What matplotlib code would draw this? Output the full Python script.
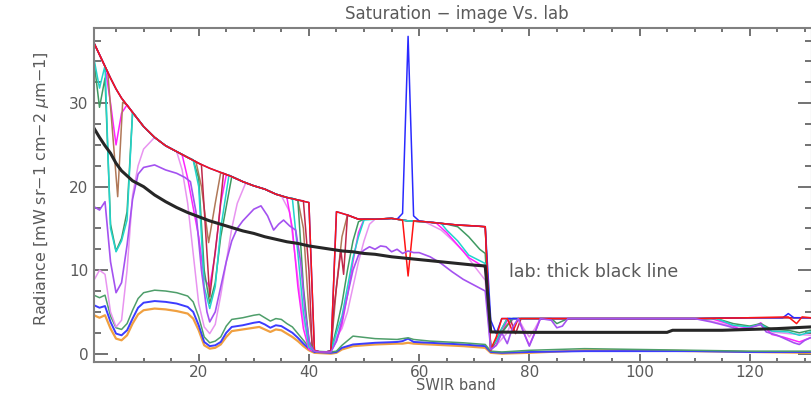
import matplotlib
matplotlib.use('Agg')
import matplotlib.pyplot as plt
from matplotlib.ticker import MultipleLocator

# common saturated envelope (band, radiance)
env_x = [1, 2, 3, 4, 5, 6, 8, 10, 12, 14, 16, 18, 20, 22, 24, 26, 28, 30, 32, 34, 36, 38, 40,
         41, 42, 43, 44, 45, 47, 49, 52, 55, 58, 61, 64, 67, 70, 72,
         73, 76, 80, 90, 100, 110, 120, 131]
env_y = [37.2, 35.8, 34.4, 33.0, 31.7, 30.6, 28.9, 27.2, 25.9, 24.9, 24.2, 23.5, 22.8, 22.2, 21.7,
         21.2, 20.6, 20.1, 19.7, 19.1, 18.7, 18.4, 18.1,
         0.4, 0.2, 0.2, 0.3, 17.0, 16.6, 16.1, 16.1, 16.2, 15.9, 15.8, 15.6, 15.4, 15.3, 15.2,
         4.2, 4.2, 4.2, 4.2, 4.2, 4.2, 4.3, 4.3]

# where each image pixel leaves the envelope
red_dips = [[(57, 16.0), (58, 9.3), (59, 15.9)],
            [(73, 0.5), (74, 2.0), (75, 4.2)],
            [(76, 4.2), (77, 2.6), (78, 4.2)],
            [(127, 4.4), (128.5, 3.6), (129.5, 4.4)]]
blue_dips = [[(56, 16.1), (57, 16.8), (58, 38.0), (59, 16.5), (60, 15.9)],
             [(73, 4.0), (74, 2.4), (75, 4.2)],
             [(126, 4.3), (127, 4.8), (128, 4.3)]]
cyan_dips = [[(1, 35.3), (2, 31.8), (3, 34.5), (4, 15.0), (5, 12.2), (6, 13.5), (7, 16.0), (8, 28.9)],
             [(19, 23.2), (20, 20.0), (21, 8.0), (22, 5.4), (23, 8.0), (24, 15.0), (25.5, 21.4)],
             [(37, 18.6), (38, 12.0), (39, 5.0), (40, 0.8), (41, 0.3)],
             [(44, 0.3), (45, 2.5), (46, 4.5), (47, 8.0), (48, 11.5), (49, 14.0), (50, 16.0)],
             [(64, 15.6), (65, 14.8), (67, 13.5), (69, 11.8), (72, 10.8), (73, 0.8), (74, 1.5),
              (75, 3.0), (76, 4.2)],
             [(114, 4.2), (117, 3.4), (120, 3.2), (122, 3.5), (124, 2.7), (127, 2.6), (129, 2.2),
              (131, 2.6)]]
green_dips = [[(1, 35.0), (2, 29.5), (3, 33.0), (4, 15.5), (5, 12.3), (6, 13.8), (7, 17.0), (8, 28.9)],
              [(19, 23.2), (20, 21.0), (21, 10.0), (22, 6.0), (23, 8.5), (24, 14.0), (26, 21.2)],
              [(37, 18.6), (38, 18.4), (39, 8.0), (40, 1.5), (41, 0.3)],
              [(44, 0.3), (45, 3.0), (46, 6.0), (47, 10.0), (48, 13.5), (49, 15.8), (50, 16.1)],
              [(65, 15.5), (67, 15.2), (69, 14.0), (71, 12.5), (72, 12.0), (73, 0.6), (75, 2.5),
               (77, 4.2)],
              [(84, 4.2), (85, 3.6), (86, 3.9), (87, 4.2)],
              [(114, 4.2), (117, 3.6), (120, 3.3), (122, 3.6), (124, 2.9), (127, 2.8), (129, 2.5),
               (131, 2.8)]]
magenta_dips = [[(3, 34.4), (4, 30.0), (5, 25.0), (6, 28.8), (7, 29.8), (8, 28.9)],
                [(17, 23.8), (18, 21.0), (20, 14.0), (21, 9.0), (22, 8.0), (23, 12.0), (24, 18.0),
                 (25, 21.4)],
                [(36, 18.7), (37, 15.0), (38, 8.0), (39, 3.0), (40, 0.5), (41, 0.3)],
                [(44, 0.3), (45, 1.5), (46, 3.5), (47, 7.0), (48, 11.0), (49, 14.5), (50, 16.1)],
                [(63, 15.7), (65, 14.5), (67, 13.0), (69, 11.5), (72, 10.3), (73, 0.5), (74, 1.0),
                 (75, 2.5), (76, 4.0)],
                [(78, 4.2), (79, 2.5), (80, 1.0), (81, 2.5), (82, 4.2)],
                [(113, 4.2), (116, 3.6), (118, 3.0), (121, 3.3), (122, 3.7), (124, 2.3), (126, 2.0),
                 (129, 1.4), (131, 1.9)]]
brown_dips = [[(3.5, 33.7), (5.3, 18.8), (6.2, 30.1), (7, 29.8), (8, 28.9)],
              [(19.5, 23.0), (20.5, 20.0), (21.8, 13.3), (23, 18.0), (24, 21.7)],
              [(38, 18.4), (39, 15.0), (40, 5.0), (40.7, 0.5), (41, 0.3)],
              [(44, 0.3), (45, 8.0), (46, 14.0), (47, 16.6)],
              [(73, 0.4), (74, 1.5), (76, 3.5), (77, 4.2)]]
darkred_dips = [[(20.5, 22.6), (22, 6.8), (23.5, 15.0), (24.5, 21.6)],
                [(39, 18.3), (40, 10.0), (40.6, 0.5), (41, 0.3)],
                [(44, 0.3), (44.5, 5.2), (45.8, 12.4), (46.3, 9.5), (47, 16.6)],
                [(73, 0.4), (75, 3.0), (76, 4.2)],
                [(76.5, 4.2), (77.5, 2.4), (78.5, 4.2)]]
pink_dips = [[(1, 8.8), (2, 10.0), (3, 9.5), (4, 5.0), (5, 3.2), (6, 4.0), (7, 10.0), (8, 19.0),
              (9, 22.5), (10, 24.5), (12, 25.9)],
             [(16, 24.2), (17, 22.0), (18, 18.0), (19, 12.0), (20, 6.0), (21, 3.2), (22, 2.4),
              (23, 3.5), (24, 7.0), (25, 11.0), (26, 15.0), (27, 18.0), (28.5, 20.4)],
             [(35, 18.9), (36.5, 17.0), (38, 9.0), (39, 4.0), (40, 1.0), (41, 0.3)],
             [(44, 0.3), (45, 2.0), (46, 3.0), (47, 5.0), (48, 8.0), (49, 11.0), (50, 13.5),
              (51, 15.5), (52, 16.1)],
             [(61, 15.8), (64, 14.8), (66, 13.6), (68, 12.3), (70, 10.5), (72, 8.8), (73, 0.5),
              (74, 1.0), (76, 2.5), (77, 4.2)],
             [(78, 4.2), (79, 3.0), (80, 2.0), (81, 3.0), (82, 4.2)],
             [(110, 4.2), (113, 3.9), (116, 3.4), (119, 3.2), (122, 3.4), (124, 2.6), (127, 2.4),
              (131, 2.2)]]

# violet pixel never reaches saturation
violet_x = [1, 2, 3, 4, 5, 6, 7, 8, 9, 10, 12, 14, 16, 17.5, 18.5, 19.5, 20.5, 21.5, 22, 23, 24, 25,
            26, 27, 28, 29, 30, 31.3, 32.5, 33.6, 34.5, 35.4, 36.5, 37.6, 38.5, 39.3, 40.2, 41, 42,
            44, 45, 46, 47, 48, 49, 50, 51, 52, 53, 54, 55, 56, 57, 58, 59, 60, 62, 64, 66, 68, 70,
            72, 73, 74, 75, 76, 77, 78, 79, 80, 81, 82, 84, 85, 86, 87, 110, 113, 116, 118, 120,
            122, 123, 125, 126, 128, 129, 130, 131]
violet_y = [17.6, 17.2, 18.2, 11.0, 7.3, 8.5, 13.0, 18.5, 21.5, 22.3, 22.6, 22.0, 21.6, 21.1, 20.6,
            17.0, 10.0, 5.0, 3.8, 5.0, 8.0, 11.0, 13.5, 15.0, 15.9, 16.6, 17.3, 17.7, 16.5, 14.8,
            15.5, 16.0, 15.3, 14.8, 11.0, 5.0, 1.0, 0.3, 0.2, 0.2, 1.5, 4.0, 7.0, 10.0, 11.8, 12.4,
            12.8, 12.5, 12.9, 12.8, 12.2, 12.5, 12.0, 12.3, 12.1, 12.1, 11.6, 10.8, 9.8, 8.9, 8.2,
            7.5, 0.5, 1.0, 2.5, 1.2, 3.2, 4.2, 2.5, 0.9, 2.5, 4.2, 4.0, 3.1, 3.3, 4.2, 4.2, 3.8,
            3.3, 2.9, 3.1, 3.5, 2.6, 2.2, 1.9, 1.3, 1.1, 1.6, 1.9]

# dark pixels
low_x = [1, 2, 3, 4, 5, 6, 7, 8, 9, 10, 12, 14, 16, 18, 19, 20, 21, 22, 23, 24, 25, 26, 28, 30, 31,
         32, 33, 34, 35, 36, 37, 38, 39, 40, 41, 44, 45, 46, 48, 52, 56, 57, 58, 59, 62, 68, 72,
         73, 75, 80, 90, 100, 110, 120, 131]
low_green = [7.0, 6.7, 7.0, 4.5, 3.1, 2.9, 3.6, 5.2, 6.6, 7.3, 7.6, 7.5, 7.3, 6.9, 6.2, 4.4, 2.0,
             1.3, 1.5, 2.0, 3.3, 4.1, 4.3, 4.6, 4.7, 4.3, 3.9, 4.2, 4.1, 3.6, 3.2, 2.4, 1.6, 0.8,
             0.3, 0.2, 0.3, 1.0, 2.1, 1.8, 1.7, 1.8, 1.9, 1.7, 1.5, 1.3, 1.1, 0.3, 0.2, 0.4, 0.6,
             0.5, 0.4, 0.3, 0.3]
low_blue = [5.8, 5.5, 5.7, 3.8, 2.4, 2.2, 2.8, 4.2, 5.5, 6.1, 6.3, 6.2, 6.0, 5.6, 5.0, 3.4, 1.4,
            0.9, 1.0, 1.4, 2.5, 3.2, 3.4, 3.7, 3.8, 3.5, 3.1, 3.4, 3.3, 2.9, 2.5, 1.9, 1.2, 0.6,
            0.2, 0.1, 0.2, 0.7, 1.1, 1.3, 1.4, 1.5, 1.8, 1.4, 1.3, 1.1, 0.9, 0.2, 0.1, 0.2, 0.3,
            0.3, 0.3, 0.2, 0.2]
low_orange = [4.6, 4.3, 4.6, 3.0, 1.8, 1.6, 2.2, 3.6, 4.7, 5.2, 5.4, 5.3, 5.1, 4.8, 4.2, 2.8, 1.0,
              0.6, 0.7, 1.1, 2.0, 2.7, 2.9, 3.1, 3.2, 2.9, 2.6, 2.9, 2.8, 2.4, 2.0, 1.5, 0.9, 0.4,
              0.1, 0.0, 0.1, 0.5, 0.9, 1.1, 1.2, 1.2, 1.3, 1.2, 1.1, 0.9, 0.7, 0.1, 0.0, 0.1, 0.4,
              0.4, 0.3, 0.2, 0.1]

# lab measurement
lab_x = [1, 2, 3, 4, 5, 6, 8, 10, 12, 14, 16, 18, 20, 22, 24, 26, 28, 30, 32, 34, 36, 38, 40, 42,
         44, 46, 48, 50, 52, 55, 58, 61, 64, 67, 70, 72, 73, 80, 90, 100, 105, 106, 115, 120, 125,
         131]
lab_y = [27.0, 25.9, 24.9, 24.0, 22.8, 21.9, 20.7, 20.0, 19.0, 18.2, 17.5, 16.9, 16.4, 15.9, 15.5,
         15.1, 14.7, 14.4, 14.0, 13.7, 13.4, 13.2, 12.9, 12.7, 12.5, 12.3, 12.2, 12.0, 11.9, 11.6,
         11.4, 11.2, 11.0, 10.8, 10.6, 10.5, 2.6, 2.55, 2.55, 2.55, 2.55, 2.8, 2.8, 2.9, 3.0, 3.2]


def splice(dips):
    pts = dict(zip(env_x, env_y))
    for dip in dips:
        lo, hi = dip[0][0], dip[-1][0]
        pts = {x: y for x, y in pts.items() if not lo <= x <= hi}
        pts.update(dict(dip))
    xs = sorted(pts)
    return xs, [pts[x] for x in xs]


grey = '#5a5a5a'
plt.rcParams['font.family'] = ['DejaVu Sans']

fig = plt.figure(figsize=(8.12, 3.93), dpi=100)
ax = fig.add_axes([94 / 812, 31 / 393, 1 - 94 / 812, 334 / 393])

ax.plot(low_x, low_orange, color='#f0a040', lw=1.6)
ax.plot(low_x, low_blue, color='#3c3cff', lw=1.4)
ax.plot(low_x, low_green, color='#4e9e6a', lw=1.1)

for dips, col in [(pink_dips, '#e894f0'), (magenta_dips, '#ff22ff'), (brown_dips, '#b07858'),
                  (darkred_dips, '#c0284a'), (green_dips, '#3f9a62'), (cyan_dips, '#22d4cc'),
                  (blue_dips, '#2a2aff'), (red_dips, '#ff1414')]:
    xs, ys = splice(dips)
    ax.plot(xs, ys, color=col, lw=1.1)

ax.plot(violet_x, violet_y, color='#a452f0', lw=1.2)
ax.plot(lab_x, lab_y, color='#262626', lw=2.2)

ax.set_xlim(1, 131.3)
ax.set_ylim(-1, 39)
ax.xaxis.set_major_locator(MultipleLocator(20))
ax.xaxis.set_minor_locator(MultipleLocator(5))
ax.yaxis.set_major_locator(MultipleLocator(10))
ax.yaxis.set_minor_locator(MultipleLocator(2.5))
ax.tick_params(axis='both', which='both', direction='in', top=True, right=True,
               colors=grey, labelsize=11, width=1.2)
ax.tick_params(axis='x', which='major', length=6, pad=2)
ax.tick_params(axis='x', which='minor', length=3)
ax.tick_params(axis='y', which='major', length=10, pad=4)
ax.tick_params(axis='y', which='minor', length=5)
for s in ax.spines.values():
    s.set_color('#808080')
    s.set_linewidth(1.5)

fig.text(457 / 812, 1 - 14 / 393, 'Saturation \u2212 image Vs. lab', ha='center', va='center',
         fontsize=12, color=grey)
fig.text(42 / 812, 1 - 189 / 393, 'Radiance [mW sr\u22121 cm\u22122 $\\mu$m\u22121]', rotation=90,
         ha='center', va='center', fontsize=11.5, color=grey)
fig.text(456 / 812, 1 - 386 / 393, 'SWIR band', ha='center', va='center', fontsize=10.5, color=grey)
ax.text(76.3, 9.8, 'lab: thick black line', ha='left', va='center', fontsize=12.5, color=grey)

fig.savefig('out.png', dpi=100)
